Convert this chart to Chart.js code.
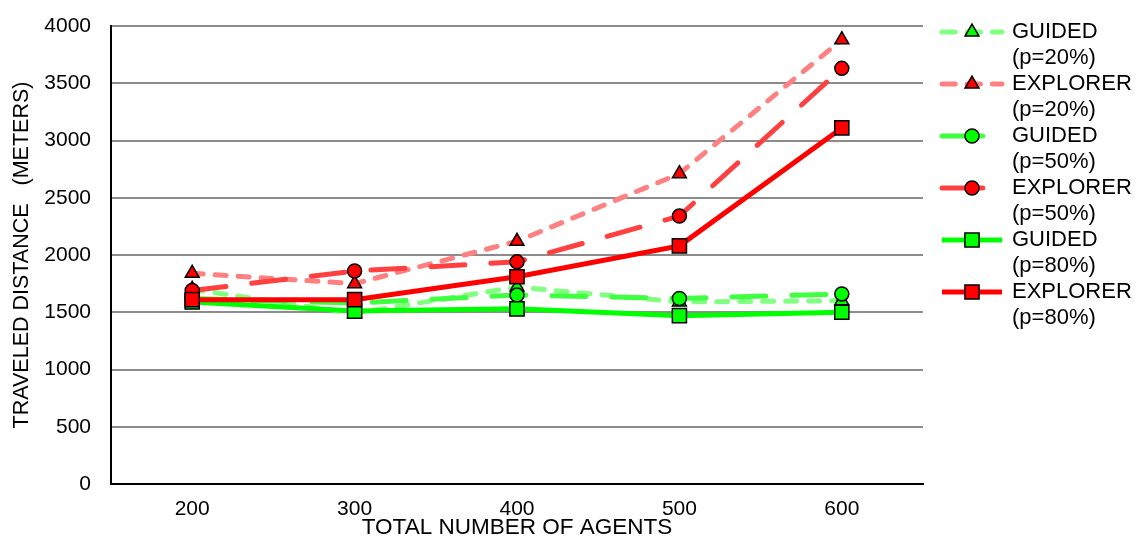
<!doctype html>
<html lang="en">
<head>
<meta charset="utf-8">
<script src="https://cdn.jsdelivr.net/npm/chart.js"></script>
<style>
  html, body { margin: 0; padding: 0; background: #fff; }
  #wrap { width: 1135px; height: 541px; }
</style>
</head>
<body>
<div id="wrap">
  <canvas id="myChart" width="1135" height="541"></canvas>
</div>

<script>
  // agents on the x axis, distances in meters
  const agents = ['200', '300', '400', '500', '600'];
  const guided20 = [1700, 1490, 1720, 1590, 1600];
  const explorer20 = [1840, 1750, 2120, 2710, 3880];
  const guided50 = [1620, 1580, 1650, 1620, 1660];
  const explorer50 = [1690, 1860, 1940, 2340, 3630];
  const guided80 = [1590, 1510, 1530, 1470, 1500];
  const explorer80 = [1610, 1610, 1810, 2080, 3110];
  const seriesNames = [
    ['GUIDED', '(p=20%)'], ['EXPLORER', '(p=20%)'],
    ['GUIDED', '(p=50%)'], ['EXPLORER', '(p=50%)'],
    ['GUIDED', '(p=80%)'], ['EXPLORER', '(p=80%)']
  ];

  const FONT = "'Liberation Sans', Arial, sans-serif";

  function series(i, data, line, fill, dash, style, radius, width) {
    return {
      label: seriesNames[i].join(' '),
      data: data,
      borderColor: line,
      backgroundColor: fill,
      borderWidth: width,
      borderDash: dash,
      borderCapStyle: dash.length ? 'round' : 'butt',
      pointStyle: style,
      pointRadius: radius,
      pointBackgroundColor: fill,
      pointBorderColor: '#000',
      pointBorderWidth: 1.5,
      tension: 0,
      order: 6 - i
    };
  }

  const datasets = [
    series(0, guided20, '#80ff80', '#00ff00', [11, 12], 'triangle', 8, 5),
    series(1, explorer20, '#ff8080', '#ff0000', [11, 12], 'triangle', 8, 5),
    series(2, guided50, '#40ff40', '#00ff00', [34, 26], 'circle', 7, 5),
    series(3, explorer50, '#ff4040', '#ff0000', [34, 26], 'circle', 7, 5),
    series(4, guided80, '#00ff00', '#00ff00', [], 'rect', 10, 5),
    series(5, explorer80, '#ff0000', '#ff0000', [], 'rect', 10, 5)
  ];

  // two-line legend on the right
  const sideLegend = {
    id: 'sideLegend',
    afterDraw(chart) {
      const ctx = chart.ctx;
      ctx.save();
      chart.data.datasets.forEach(function(ds, i) {
        const y = 32 + 52 * i;
        ctx.save();
        ctx.strokeStyle = ds.borderColor;
        ctx.lineWidth = ds.borderWidth;
        ctx.lineCap = ds.borderCapStyle;
        ctx.setLineDash(ds.borderDash.length ? [ds.borderDash[0] * 1.2, ds.borderDash[1]] : []);
        ctx.beginPath();
        ctx.moveTo(942, y);
        ctx.lineTo(1002, y);
        ctx.stroke();
        ctx.restore();
        ctx.save();
        ctx.fillStyle = ds.pointBackgroundColor;
        ctx.strokeStyle = '#000';
        ctx.lineWidth = 1.5;
        Chart.helpers.drawPoint(ctx, { pointStyle: ds.pointStyle, radius: ds.pointRadius, borderWidth: 1.5 }, 972, y);
        ctx.restore();
        ctx.fillStyle = '#000';
        ctx.font = '22px ' + FONT;
        ctx.textAlign = 'left';
        ctx.textBaseline = 'middle';
        ctx.fillText(seriesNames[i][0], 1012, y);
        ctx.fillText(seriesNames[i][1], 1012, y + 26);
      });
      ctx.restore();
    }
  };

  const canvas = document.getElementById('myChart');
  const chart = new Chart(canvas, {
    type: 'line',
    data: { labels: agents, datasets: datasets },
    plugins: [sideLegend],
    options: {
      responsive: false,
      animation: false,
      layout: { padding: { top: 26, right: 212, left: 0, bottom: 0 } },
      plugins: {
        legend: { display: false },
        tooltip: { enabled: false }
      },
      scales: {
        x: {
          offset: true,
          grid: { display: false, drawTicks: false },
          border: { display: true, color: '#000', width: 2 },
          ticks: { color: '#000', padding: 13, font: { family: "'Liberation Sans Narrow', " + FONT, size: 21 } },
          title: {
            display: true, text: 'TOTAL NUMBER OF AGENTS', color: '#000',
            font: { family: FONT, size: 22.5 }, padding: { top: 0, bottom: 0 }
          },
          afterFit(scale) { scale.height = 57; scale.paddingLeft = 0; scale.paddingRight = 0; }
        },
        y: {
          min: 0, max: 4000,
          grid: { color: '#8c8c8c', lineWidth: 2, drawTicks: false },
          border: { display: true, color: '#000', width: 2 },
          ticks: {
            stepSize: 500, color: '#000', padding: 20, font: { family: FONT, size: 21 },
            callback: function(v) { return String(v); }
          },
          title: {
            display: true, text: 'TRAVELED DISTANCE   (METERS)', color: '#000',
            font: { family: FONT, size: 21.5 }, padding: { top: 9, bottom: 0 }
          },
          afterFit(scale) { scale.width = 111; scale.paddingTop = 0; scale.paddingBottom = 0; }
        }
      }
    }
  });
</script>
</body>
</html>
